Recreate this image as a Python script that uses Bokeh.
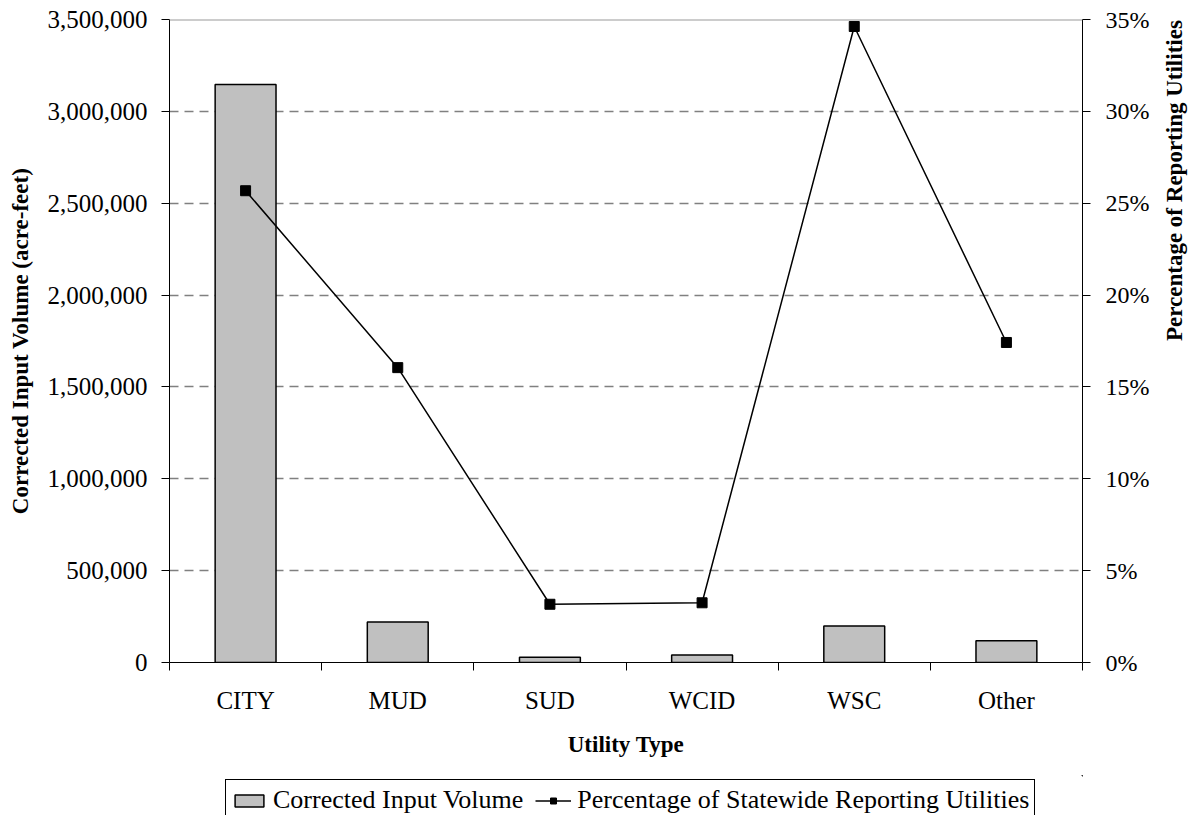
import math
from bokeh.plotting import figure
from bokeh.layouts import column
from bokeh.models import (Range1d, LinearAxis, FixedTicker, NumeralTickFormatter,
                          Legend, LegendItem, Span)
from bokeh.embed import file_html
from bokeh.resources import INLINE

categories = ["CITY", "MUD", "SUD", "WCID", "WSC", "Other"]
volumes = [3146000, 221000, 29000, 41500, 198000, 118000]
pct_reporting = [0.2568, 0.1605, 0.0317, 0.0325, 0.3462, 0.1742]
left_ticks = [0, 500000, 1000000, 1500000, 2000000, 2500000, 3000000, 3500000]
right_ticks = [0, 0.05, 0.10, 0.15, 0.20, 0.25, 0.30, 0.35]

FONT = "Liberation Serif"
BAR_FILL = "#C0C0C0"
centers = [i + 0.5 for i in range(len(categories))]
bounds = [float(i) for i in range(len(categories) + 1)]

p = figure(width=1202, height=775, output_backend="svg", toolbar_location=None,
           x_range=Range1d(0, len(categories)), y_range=Range1d(0, 3500000),
           min_border_left=169, min_border_right=110, min_border_top=19,
           min_border_bottom=113)
p.outline_line_color = None
p.background_fill_color = "white"
p.border_fill_color = "white"
p.extra_y_ranges = {"pct": Range1d(0, 0.35)}

bars = p.vbar(x=centers, top=volumes, width=0.4, fill_color=BAR_FILL,
              line_color="black", line_width=1.5)
line = p.line(x=centers, y=pct_reporting, y_range_name="pct",
              line_color="black", line_width=1.5)
pts = p.scatter(x=centers, y=pct_reporting, y_range_name="pct", marker="square",
                size=10, fill_color="black", line_color="black")

# x axis
xa = p.xaxis[0]
xa.ticker = FixedTicker(ticks=centers, minor_ticks=bounds)
xa.major_label_overrides = {c: lab for c, lab in zip(centers, categories)}
xa.major_tick_line_color = None
xa.minor_tick_in = 0
xa.minor_tick_out = 8
xa.minor_tick_line_color = "black"
xa.axis_line_color = "black"
xa.axis_label = "Utility Type"
xa.axis_label_text_font = FONT
xa.axis_label_text_font_style = "bold"
xa.axis_label_text_font_size = "23px"
xa.axis_label_text_color = "black"
xa.axis_label_standoff = 15
xa.major_label_text_font = FONT
xa.major_label_text_font_size = "25px"
xa.major_label_text_color = "black"
xa.major_label_standoff = 16

# left axis
ya = p.yaxis[0]
ya.ticker = FixedTicker(ticks=left_ticks)
ya.formatter = NumeralTickFormatter(format="0,0")
ya.major_tick_in = 0
ya.major_tick_out = 8
ya.minor_tick_line_color = None
ya.axis_line_color = "black"
ya.major_label_text_font = FONT
ya.major_label_text_font_size = "25px"
ya.major_label_text_color = "black"
ya.major_label_standoff = 14
ya.axis_label = "Corrected Input Volume (acre-feet)"
ya.axis_label_text_font = FONT
ya.axis_label_text_font_style = "bold"
ya.axis_label_text_font_size = "23px"
ya.axis_label_text_color = "black"
ya.axis_label_standoff = 12

# right axis
ra = LinearAxis(y_range_name="pct", ticker=FixedTicker(ticks=right_ticks),
                formatter=NumeralTickFormatter(format="0%"))
ra.major_tick_in = 0
ra.major_tick_out = 8
ra.minor_tick_line_color = None
ra.axis_line_color = "black"
ra.major_label_text_font = FONT
ra.major_label_text_font_size = "24px"
ra.major_label_text_color = "black"
ra.major_label_standoff = 15
ra.axis_label = "Percentage of Reporting Utilities"
ra.axis_label_text_font = FONT
ra.axis_label_text_font_style = "bold"
ra.axis_label_text_font_size = "23px"
ra.axis_label_text_color = "black"
ra.axis_label_text_line_height = 1.0
ra.axis_label_standoff = 22
if hasattr(ra, "axis_label_orientation"):
    ra.axis_label_orientation = math.pi / 2
p.add_layout(ra, "right")

# grid
p.xgrid.grid_line_color = None
p.ygrid.ticker = FixedTicker(ticks=left_ticks[1:-1])
p.ygrid.grid_line_color = "#808080"
p.ygrid.grid_line_dash = "9 6"
p.ygrid.grid_line_width = 1.5
p.add_layout(Span(location=left_ticks[-1], dimension="width",
                  line_color="#999999", line_width=2))

# legend strip below the chart (its frame is aligned with the chart's frame);
# its key renderers use the same data but lie outside this strip's ranges
lg = figure(width=1202, height=40, output_backend="svg", toolbar_location=None,
            x_axis_location=None, y_axis_location=None,
            x_range=Range1d(-20, -19), y_range=Range1d(-20, -19), min_border=0)
lg.extra_y_ranges = {"pct": Range1d(-20, -19)}
lg.outline_line_color = None
lg.grid.visible = False
lg_bar = lg.vbar(x=centers, top=volumes, width=0.4, fill_color=BAR_FILL,
                 line_color="black", line_width=1.5)
lg_line = lg.line(x=centers, y=pct_reporting, y_range_name="pct",
                  line_color="black", line_width=1.5)
lg_pts = lg.scatter(x=centers, y=pct_reporting, y_range_name="pct", marker="square",
                    size=9, fill_color="black", line_color="black")

legend = Legend(items=[LegendItem(label="Corrected Input Volume", renderers=[lg_bar]),
                       LegendItem(label="Percentage of Statewide Reporting Utilities",
                                  renderers=[lg_line, lg_pts])],
                orientation="horizontal", location=(56, -6),
                label_text_font=FONT, label_text_font_size="26px",
                label_text_color="black",
                border_line_color="black", border_line_width=1.5,
                border_line_alpha=1.0, background_fill_alpha=1.0,
                glyph_width=36, glyph_height=15, label_standoff=6, spacing=12,
                padding=5, margin=0, label_height=24)
lg.add_layout(legend)

open("out.html", "w").write(file_html(column(p, lg, spacing=0), INLINE))
